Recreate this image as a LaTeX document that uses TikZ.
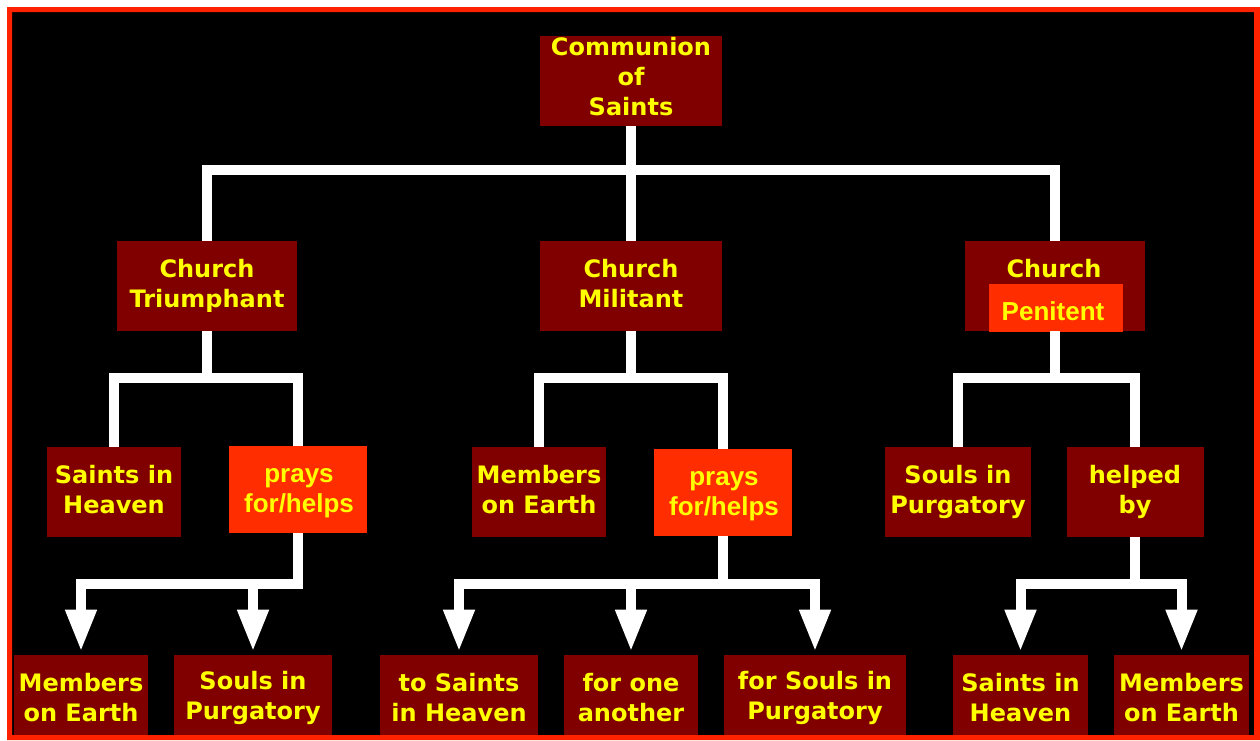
\documentclass[tikz,border=0pt]{standalone}
\usepackage{fontspec}
\usetikzlibrary{arrows.meta}
\newfontfamily\dvs{DejaVu Sans}
\newfontfamily\lsans{Liberation Sans}
\definecolor{dred}{RGB}{128,0,0}
\definecolor{ored}{RGB}{255,45,0}
\definecolor{bord}{RGB}{255,34,0}
\definecolor{ytxt}{RGB}{255,255,0}
\tikzset{
  dbox/.style 2 args={rectangle, fill=dred, inner sep=0pt,
    minimum width=#1*0.75pt, minimum height=#2*0.75pt, text=ytxt,
    font=\dvs\bfseries\fontsize{18}{22.5}\selectfont, align=center},
  obox/.style 2 args={rectangle, fill=ored, inner sep=0pt,
    minimum width=#1*0.75pt, minimum height=#2*0.75pt},
  dtxt/.style={text=ytxt, inner sep=0pt, align=center,
    font=\dvs\bfseries\fontsize{18}{22.5}\selectfont},
  otxt/.style={text=ytxt, inner sep=0pt, align=center,
    font=\lsans\bfseries\fontsize{19.5}{22.5}\selectfont},
  wire/.style={draw=white, line width=7.5pt, line join=miter},
  arr/.style={wire, -{Triangle[width=21.75pt,length=31.5pt]}, shorten >=2.25pt},
}
\begin{document}
\begin{tikzpicture}[x=0.75pt,y=-0.75pt]
\useasboundingbox (0,0) rectangle (1260,740);
\fill[white] (0,0) rectangle (1260,740);
\fill[black] (12,12) rectangle (1254,735);

% level 0
\node[dbox={182}{90}] (cs) at (631,81) {};
\node[dtxt] (cst) at (631,77) {Communion\\of\\Saints};
% level 1
\node[dbox={180}{90}] (ct) at (207,286) {Church\\Triumphant};
\node[dbox={182}{90}] (cm) at (631,286) {};
\node[dtxt] (cmt) at (631,284) {Church\\Militant};
\node[dbox={180}{90}] (cp) at (1055,286) {};
\node[dtxt, anchor=base] (cpt) at (1054,277) {Church};
\node[obox={134}{48}] (cpo) at (1056,308) {};
\node[otxt] (cpot) at (1053,311) {Penitent};
% level 2
\node[dbox={134}{90}] (sh1) at (114,492) {};
\node[dtxt] (sh1t) at (114,490) {Saints in\\Heaven};
\node[obox={138}{87}] (pf1) at (298,489.5) {};
\node[otxt] (pf1t) at (299,493) {prays\\for/helps};
\node[dbox={134}{90}] (me1) at (539,492) {};
\node[dtxt] (me1t) at (539,490) {Members\\on Earth};
\node[obox={138}{87}] (pf2) at (723,492.5) {};
\node[otxt] (pf2t) at (724,496) {prays\\for/helps};
\node[dbox={146}{90}] (sp1) at (958,492) {Souls in\\Purgatory};
\node[dbox={137}{90}] (hb) at (1135,492) {helped\\by};
% level 3
\node[dbox={134}{85}] (b1) at (81,697.5) {Members\\on Earth};
\node[dbox={158}{85}] (b2) at (253,697.5) {Souls in\\Purgatory};
\node[dbox={158}{85}] (b3) at (459,697.5) {to Saints\\in Heaven};
\node[dbox={134}{85}] (b4) at (631,697.5) {for one\\another};
\node[dbox={182}{85}] (b5) at (815,697.5) {for Souls in\\Purgatory};
\node[dbox={135}{85}] (b6) at (1020.5,697.5) {Saints in\\Heaven};
\node[dbox={135}{85}] (b7) at (1181.5,697.5) {Members\\on Earth};

% junctions
\coordinate (j0) at (631,170);
\coordinate (t1) at (207,378);
\coordinate (m1) at (631,378);
\coordinate (p1) at (1055,378);
\coordinate (k1) at (298,584);
\coordinate (k2) at (723,583.5);
\coordinate (k3) at (1135,583.5);

% connectors
\draw[wire] (ct.north) |- (j0) -| (cp.north);
\draw[wire] (cs.south) -- (cm.north);
\draw[wire] (sh1.north) |- (t1) -| (pf1.north);
\draw[wire] (ct.south) -- (t1);
\draw[wire] (me1.north) |- (m1) -| (pf2.north);
\draw[wire] (cm.south) -- (m1);
\draw[wire] (sp1.north) |- (p1) -| (hb.north);
\draw[wire] (cp.south) -- (p1);

\draw[arr] (pf1.south) -- (k1) -| (b1.north);
\draw[arr] (k1) -| (b2.north);
\draw[arr] (pf2.south) -- (k2) -| (b3.north);
\draw[arr] (k2) -| (b5.north);
\draw[arr] (k2 -| b4.north) -- (b4.north);
\draw[arr] (hb.south) -- (k3) -| (b6.north);
\draw[arr] (k3) -| (b7.north);

% frame
\fill[bord, even odd rule] (7,7) rectangle (1260,740) (12,12) rectangle (1254,735);
\end{tikzpicture}
\end{document}
